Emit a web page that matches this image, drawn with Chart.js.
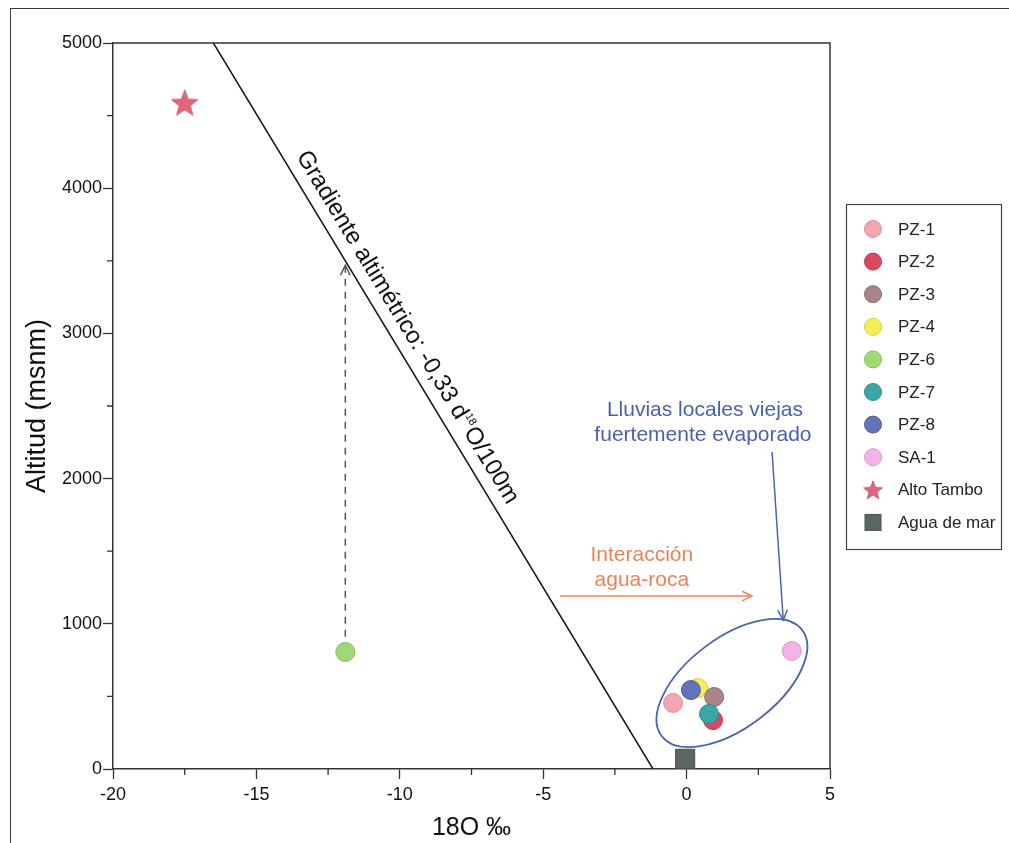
<!DOCTYPE html>
<html>
<head>
<meta charset="utf-8">
<script src="https://cdn.jsdelivr.net/npm/chart.js@4.4.1/dist/chart.umd.min.js"></script>
<style>
  html, body { margin: 0; padding: 0; background: #fff; }
  #wrap { position: relative; width: 1009px; height: 843px; overflow: hidden; }
  #frame { position: absolute; left: 10px; top: 8px; width: 1020px; height: 900px; border: 1.5px solid #3a3a3a; box-sizing: border-box; }
  #grafico { position: absolute; left: 0; top: 0; }
</style>
</head>
<body>
<div id="wrap">
  <div id="frame"></div>
  <canvas id="grafico" width="1009" height="843"></canvas>
</div>
<script>
// muestras y valores
const muestras = ["PZ-1", "PZ-2", "PZ-3", "PZ-4", "PZ-6", "PZ-7", "PZ-8", "SA-1", "Alto Tambo", "Agua de mar"];
const d18O = [-0.47, 0.92, 0.96, 0.40, -11.9, 0.78, 0.15, 3.67, -17.5, -0.05];
const altitud = [455, 337, 496, 558, 806, 379, 544, 813, 4590, 70];
const colores = ["#f3a5b1", "#d94a60", "#a9858a", "#f6ee55", "#a3d877", "#3ba6a8", "#6273b9", "#f5b2e6", "#e2657d", "#5d6762"];
const bordes = ["#e0909c", "#b8384d", "#8e6b70", "#d8cf3a", "#86bd5c", "#2d8a8c", "#4d5c9c", "#dc98cc", "#c04e66", "#4a524e"];

const xRango = [-20, 5];
const yRango = [0, 5000];

// recta del gradiente altimetrico
const gradienteX = [-16.5, -1.17];
const gradienteY = [5000, 0];

// flechas y textos (coordenadas de datos)
const flechaPZ6X = [-11.9, -11.9];
const flechaPZ6Y = [910, 3470];
const flechaRocaX = [-4.41, 2.28];
const flechaRocaY = [1191, 1191];
const flechaLluviaX = [2.98, 3.37];
const flechaLluviaY = [2183, 1026];
const elipseCentro = [1.58, 592];

const textoLluvias = ["Lluvias locales viejas", "fuertemente evaporado"];
const textoLluviasX = [0.64, 0.57];
const textoLluviasY = [2472, 2300];
const textoRoca = ["Interacción", "agua-roca"];
const textoRocaX = [-1.56, -1.56];
const textoRocaY = [1474, 1302];

const fuente = "'Liberation Sans', Arial, Helvetica, sans-serif";

function estrella(radio, relleno, borde) {
    const c = document.createElement("canvas");
    const s = Math.ceil(radio * 2 + 4);
    c.width = s; c.height = s;
    const g = c.getContext("2d");
    g.translate(s / 2, s / 2 + radio * 0.1);
    g.beginPath();
    for (let i = 0; i < 10; i++) {
        const r = i % 2 === 0 ? radio : radio * 0.42;
        const a = -Math.PI / 2 + i * Math.PI / 5;
        g.lineTo(r * Math.cos(a), r * Math.sin(a));
    }
    g.closePath();
    g.fillStyle = relleno;
    g.fill();
    g.strokeStyle = borde;
    g.lineWidth = 0.8;
    g.stroke();
    return c;
}

const estrellaGrande = estrella(14, colores[8], bordes[8]);
const estrellaChica = estrella(10, colores[8], bordes[8]);

const datasets = muestras.map(function(m, i) {
    let estilo = "circle";
    let radio = 9.5;
    if (m === "Alto Tambo") { estilo = estrellaGrande; radio = 14; }
    if (m === "Agua de mar") { estilo = "rect"; radio = 13.5; }
    return {
        label: m,
        data: [{ x: d18O[i], y: altitud[i] }],
        pointStyle: estilo,
        pointRadius: radio,
        pointHoverRadius: radio,
        backgroundColor: colores[i],
        borderColor: bordes[i],
        borderWidth: 1,
        order: (m === "PZ-7" || m === "PZ-8") ? 0 : 1,
        clip: false
    };
});

datasets.push({
    label: "gradiente",
    data: gradienteX.map((x, i) => ({ x: x, y: gradienteY[i] })),
    showLine: true,
    pointRadius: 0,
    borderColor: "#151515",
    borderWidth: 1.5,
    order: 5
});

function punta(ctx, x, y, ang, largo) {
    ctx.beginPath();
    ctx.moveTo(x - largo * Math.cos(ang - 0.45), y - largo * Math.sin(ang - 0.45));
    ctx.lineTo(x, y);
    ctx.lineTo(x - largo * Math.cos(ang + 0.45), y - largo * Math.sin(ang + 0.45));
    ctx.stroke();
}

function flecha(ctx, xs, ys, ax, ay, color, guion) {
    const x0 = xs.getPixelForValue(ax[0]), y0 = ys.getPixelForValue(ay[0]);
    const x1 = xs.getPixelForValue(ax[1]), y1 = ys.getPixelForValue(ay[1]);
    ctx.save();
    ctx.strokeStyle = color;
    ctx.lineWidth = 1.5;
    ctx.setLineDash(guion);
    ctx.beginPath();
    ctx.moveTo(x0, y0);
    ctx.lineTo(x1, y1);
    ctx.stroke();
    ctx.setLineDash([]);
    punta(ctx, x1, y1, Math.atan2(y1 - y0, x1 - x0), 11);
    ctx.restore();
}

const esMayor = (v, paso) => Math.abs(v % paso) < 1e-9;

const anotaciones = {
    id: "anotaciones",
    afterDatasetsDraw(chart) {
        const ctx = chart.ctx;
        const xs = chart.scales.x, ys = chart.scales.y;
        const area = chart.chartArea;

        // marco superior y derecho
        ctx.save();
        ctx.strokeStyle = "#333";
        ctx.lineWidth = 1.5;
        ctx.beginPath();
        ctx.moveTo(area.left, area.top);
        ctx.lineTo(area.right, area.top);
        ctx.lineTo(area.right, area.bottom);
        ctx.stroke();

        // marcas menores (mas cortas)
        ctx.lineWidth = 1.3;
        ctx.beginPath();
        xs.ticks.forEach(t => {
            if (!esMayor(t.value, 5)) {
                const px = xs.getPixelForValue(t.value);
                ctx.moveTo(px, area.bottom);
                ctx.lineTo(px, area.bottom + 6);
            }
        });
        ys.ticks.forEach(t => {
            if (!esMayor(t.value, 1000)) {
                const py = ys.getPixelForValue(t.value);
                ctx.moveTo(area.left, py);
                ctx.lineTo(area.left - 6, py);
            }
        });
        ctx.stroke();
        ctx.restore();

        // texto del gradiente a lo largo de la recta
        const p0x = xs.getPixelForValue(gradienteX[0]), p0y = ys.getPixelForValue(gradienteY[0]);
        const p1x = xs.getPixelForValue(gradienteX[1]), p1y = ys.getPixelForValue(gradienteY[1]);
        const ang = Math.atan2(p1y - p0y, p1x - p0x);
        const largo = Math.hypot(p1x - p0x, p1y - p0y);
        ctx.save();
        ctx.translate(p0x, p0y);
        ctx.rotate(ang);
        ctx.fillStyle = "#111";
        ctx.textBaseline = "alphabetic";
        const t1 = "Gradiente altimétrico: -0,33 d", t2 = "18", t3 = "O/100m";
        ctx.font = "24px " + fuente;
        const w1 = ctx.measureText(t1).width, w3 = ctx.measureText(t3).width;
        ctx.font = "11px " + fuente;
        const w2 = ctx.measureText(t2).width + 1;
        let pos = largo * 0.405 - (w1 + w2 + w3) / 2;
        ctx.font = "24px " + fuente;
        ctx.fillText(t1, pos, -12);
        pos += w1;
        ctx.font = "11px " + fuente;
        ctx.fillText(t2, pos, -22);
        pos += w2;
        ctx.font = "24px " + fuente;
        ctx.fillText(t3, pos, -12);
        ctx.restore();

        // flechas
        flecha(ctx, xs, ys, flechaPZ6X, flechaPZ6Y, "#555", [7, 6]);
        flecha(ctx, xs, ys, flechaRocaX, flechaRocaY, "#e8875a", []);
        flecha(ctx, xs, ys, flechaLluviaX, flechaLluviaY, "#4a63b0", []);

        // elipse del grupo evaporado
        ctx.save();
        ctx.strokeStyle = "#4a64a8";
        ctx.lineWidth = 1.8;
        ctx.beginPath();
        ctx.ellipse(xs.getPixelForValue(elipseCentro[0]), ys.getPixelForValue(elipseCentro[1]), 88, 45, -37 * Math.PI / 180, 0, Math.PI * 2);
        ctx.stroke();
        ctx.restore();

        // textos
        ctx.save();
        ctx.font = "21px " + fuente;
        ctx.textAlign = "center";
        ctx.textBaseline = "middle";
        ctx.fillStyle = "#4a5fae";
        textoLluvias.forEach((t, i) => ctx.fillText(t, xs.getPixelForValue(textoLluviasX[i]), ys.getPixelForValue(textoLluviasY[i])));
        ctx.fillStyle = "#e8825a";
        textoRoca.forEach((t, i) => ctx.fillText(t, xs.getPixelForValue(textoRocaX[i]), ys.getPixelForValue(textoRocaY[i])));
        ctx.restore();

        // leyenda
        ctx.save();
        ctx.strokeStyle = "#444";
        ctx.lineWidth = 1.2;
        ctx.strokeRect(846.5, 204.5, 155, 345);
        ctx.font = "17px " + fuente;
        ctx.textBaseline = "middle";
        ctx.fillStyle = "#222";
        muestras.forEach(function(m, i) {
            const y = 229 + i * 32.6;
            const x = 873;
            if (m === "Alto Tambo") {
                ctx.drawImage(estrellaChica, x - estrellaChica.width / 2, y - estrellaChica.height / 2);
            } else if (m === "Agua de mar") {
                ctx.fillStyle = colores[i];
                ctx.fillRect(x - 8, y - 8, 16, 16);
                ctx.strokeStyle = bordes[i];
                ctx.strokeRect(x - 8, y - 8, 16, 16);
            } else {
                ctx.beginPath();
                ctx.arc(x, y, 8.5, 0, Math.PI * 2);
                ctx.fillStyle = colores[i];
                ctx.fill();
                ctx.strokeStyle = bordes[i];
                ctx.lineWidth = 1;
                ctx.stroke();
            }
            ctx.fillStyle = "#222";
            ctx.fillText(m, 898, y + 1);
        });
        ctx.restore();
    }
};

const ctx = document.getElementById("grafico").getContext("2d");
const grafico = new Chart(ctx, {
    type: "scatter",
    data: { datasets: datasets },
    options: {
        responsive: false,
        animation: false,
        events: [],
        layout: { padding: { top: 43, right: 179, left: 0, bottom: 0 } },
        plugins: { legend: { display: false }, tooltip: { enabled: false } },
        scales: {
            x: {
                type: "linear",
                min: xRango[0],
                max: xRango[1],
                ticks: {
                    stepSize: 2.5,
                    autoSkip: false,
                    maxRotation: 0,
                    color: "#111",
                    font: { family: fuente, size: 18 },
                    padding: 5,
                    callback: v => (esMayor(v, 5) ? String(v) : "")
                },
                grid: {
                    drawOnChartArea: false, drawTicks: true, tickLength: 10, tickWidth: 1.3, color: "#333",
                    tickColor: c => (c.tick && esMayor(c.tick.value, 5) ? "#333" : "rgba(0,0,0,0)")
                },
                border: { color: "#333", width: 1.5 },
                title: { display: true, text: "18O ‰", color: "#111", font: { family: fuente, size: 25 }, padding: { top: 0, bottom: 0 } },
                afterFit: s => { s.height = 74; }
            },
            y: {
                type: "linear",
                min: yRango[0],
                max: yRango[1],
                ticks: {
                    stepSize: 500,
                    autoSkip: false,
                    color: "#111",
                    font: { family: fuente, size: 18 },
                    padding: 1,
                    callback: v => (esMayor(v, 1000) ? String(v) : "")
                },
                grid: {
                    drawOnChartArea: false, drawTicks: true, tickLength: 10, tickWidth: 1.3, color: "#333",
                    tickColor: c => (c.tick && esMayor(c.tick.value, 1000) ? "#333" : "rgba(0,0,0,0)")
                },
                border: { color: "#333", width: 1.5 },
                title: { display: true, text: "Altitud (msnm)", color: "#111", font: { family: fuente, size: 27 }, padding: { top: 21, bottom: 0 } },
                afterFit: s => { s.width = 113; }
            }
        }
    },
    plugins: [anotaciones]
});
</script>
</body>
</html>
